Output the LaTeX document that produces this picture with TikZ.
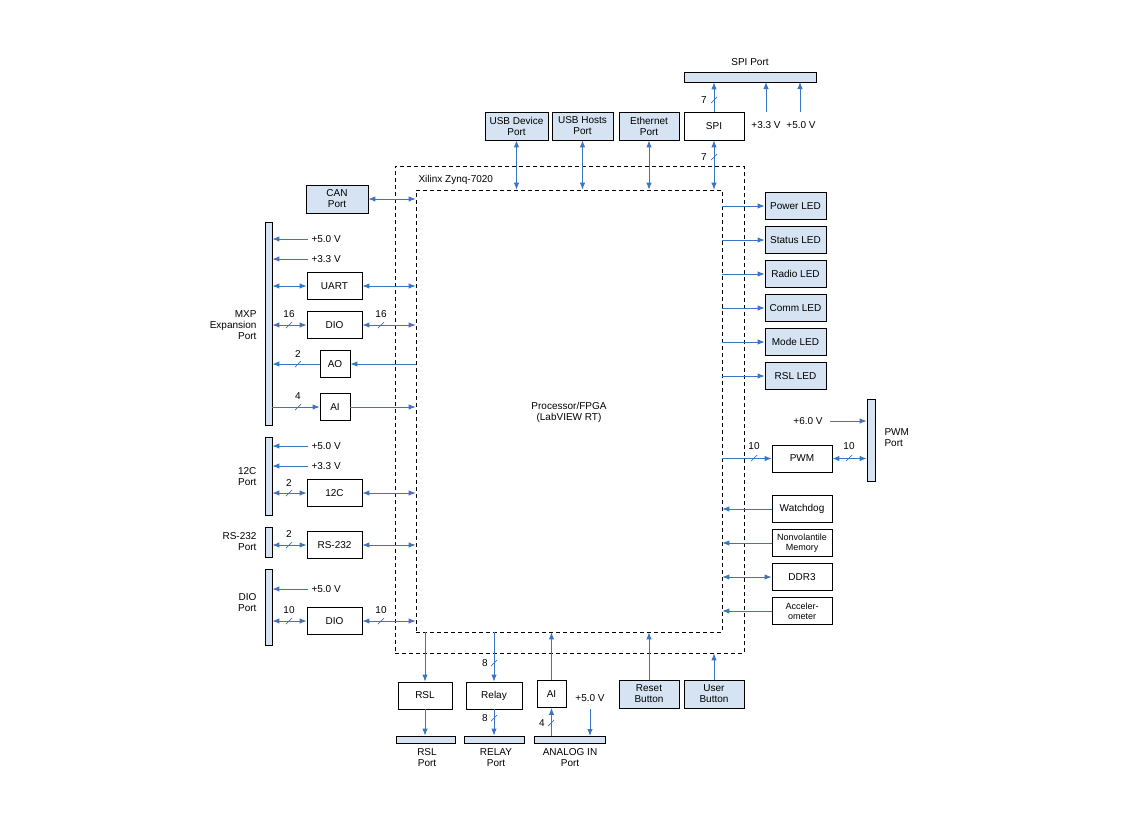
\documentclass[tikz,border=0pt]{standalone}
\usepackage{fontspec}
\setmainfont{Liberation Sans}
\usetikzlibrary{arrows.meta,calc}
\definecolor{ab}{HTML}{3A75C4}
\definecolor{bf}{HTML}{D5E3F3}
\begin{document}
\begin{tikzpicture}[x=1pt,y=-1pt,
  font=\fontsize{10}{11}\selectfont,
  box/.style={draw,line width=0.8pt,minimum width=#1,minimum height=27,inner sep=0pt,align=center,fill=white},
  bbox/.style={box=#1,fill=bf},
  bar/.style={draw,line width=0.8pt,fill=bf},
  a/.style={draw=ab,line width=0.9pt,-{Latex[length=7pt,width=5.5pt]}},
  aa/.style={draw=ab,line width=0.9pt,{Latex[length=7pt,width=5.5pt]}-{Latex[length=7pt,width=5.5pt]}},
  lab/.style={inner sep=1pt},
  dsh/.style={draw,line width=0.7pt,dash pattern=on 4pt off 3pt}]
\newcommand\bmk[4]{\draw[ab,line width=0.7pt] (#1-3,#2+3)--(#1+3,#2-3); \node[lab] at (#3) {#4};}
\useasboundingbox (0,0) rectangle (1125,825);
% Zynq
\node[dsh,minimum width=349,minimum height=487,inner sep=0pt] (zynq) at (569.5,409.5) {};
\node[dsh,minimum width=306,minimum height=442,inner sep=0pt] (fpga) at (569,411) {};
\node[anchor=west] (zt) at (415,180) {Xilinx Zynq-7020};
\node[align=center] (cpu) at (569,412) {Processor/FPGA\\(LabVIEW RT)};
% top
\node[bbox=63,minimum height=28] (usbd) at (516.5,126) {USB Device\\Port};
\node[bbox=61,minimum height=28] (usbh) at (582.5,126) {USB Hosts\\Port};
\node[bbox=60,minimum height=28] (eth) at (649,126) {Ethernet\\Port};
\node[box=60,minimum height=28] (spi) at (714,126) {SPI};
\node[bar,minimum width=132,minimum height=10,inner sep=0pt] (spip) at (750,77) {};
\node (spil) at (750,62) {SPI Port};
\draw[aa] (usbd.south) -- (usbd.south |- fpga.north);
\draw[aa] (usbh.south) -- (usbh.south |- fpga.north);
\draw[aa] (eth.south) -- (eth.south |- fpga.north);
\draw[aa] (spi.south) -- (spi.south |- fpga.north); \bmk{714}{157}{704,157}{7}
\draw[a] (spi.north) -- (spi.north |- spip.south); \bmk{714}{100}{704,100}{7}
\node (v33) at (766,125) {+3.3 V};
\node (v50) at (801,125) {+5.0 V};
\draw[a] (766,112) -- (766,82);
\draw[a] (800,112) -- (800,82);
% CAN
\node[bbox=62,minimum height=28] (can) at (337,199) {CAN\\Port};
\draw[aa] (can.east) -- (fpga.west |- can.east);
% MXP
\node[bar,minimum width=7,minimum height=203,inner sep=0pt] (mxp) at (268.5,323.5) {};
\node[align=right,anchor=east] (mxpl) at (260,325) {MXP\\Expansion\\Port};
\node[anchor=west] (m5) at (308,239) {+5.0 V};
\node[anchor=west] (m3) at (308,259) {+3.3 V};
\draw[a] (m5.west) -- (mxp.east |- m5.west);
\draw[a] (m3.west) -- (mxp.east |- m3.west);
\node[box=55] (uart) at (334.5,286) {UART};
\draw[aa] (mxp.east |- uart) -- (uart.west);
\draw[aa] (uart.east) -- (fpga.west |- uart);
\node[box=55] (dio1) at (334.5,325) {DIO};
\draw[aa] (mxp.east |- dio1) -- (dio1.west); \bmk{289}{325}{289,314}{16}
\draw[aa] (dio1.east) -- (fpga.west |- dio1); \bmk{381}{325}{381,314}{16}
\node[box=30] (ao) at (335,364) {AO};
\draw[a] (fpga.west |- ao) -- (ao.east);
\draw[a] (ao.west) -- (mxp.east |- ao); \bmk{298}{364}{298,354}{2}
\node[box=30] (ai1) at (335,407) {AI};
\draw[a] (mxp.east |- ai1) -- (ai1.west); \bmk{298}{407}{298,396}{4}
\draw[a] (ai1.east) -- (fpga.west |- ai1);
% I2C
\node[bar,minimum width=7,minimum height=78,inner sep=0pt] (i2cp) at (268.5,476) {};
\node[align=right,anchor=east] (i2cl) at (260,477) {12C\\Port};
\node[anchor=west] (i5) at (308,446) {+5.0 V};
\node[anchor=west] (i3) at (308,466) {+3.3 V};
\draw[a] (i5.west) -- (i2cp.east |- i5.west);
\draw[a] (i3.west) -- (i2cp.east |- i3.west);
\node[box=55] (i2c) at (334.5,493) {12C};
\draw[aa] (i2cp.east |- i2c) -- (i2c.west); \bmk{289}{493}{289,483}{2}
\draw[aa] (i2c.east) -- (fpga.west |- i2c);
% RS232
\node[bar,minimum width=7,minimum height=30,inner sep=0pt] (rsp) at (268.5,542) {};
\node[align=right,anchor=east] (rsl) at (260,542) {RS-232\\Port};
\node[box=55] (rs) at (334.5,545) {RS-232};
\draw[aa] (rsp.east |- rs) -- (rs.west); \bmk{289}{545}{289,534}{2}
\draw[aa] (rs.east) -- (fpga.west |- rs);
% DIO port
\node[bar,minimum width=7,minimum height=76,inner sep=0pt] (diop) at (268.5,607) {};
\node[align=right,anchor=east] (diol) at (260,603) {DIO\\Port};
\node[anchor=west] (d5) at (308,589) {+5.0 V};
\draw[a] (d5.west) -- (diop.east |- d5.west);
\node[box=55] (dio2) at (334.5,621) {DIO};
\draw[aa] (diop.east |- dio2) -- (dio2.west); \bmk{289}{621}{289,610}{10}
\draw[aa] (dio2.east) -- (fpga.west |- dio2); \bmk{381}{621}{381,610}{10}
% LEDs
\foreach \n/\t/\y in {pl/Power LED/206,sl/Status LED/240,rl/Radio LED/274,cl/Comm LED/308,ml/Mode LED/342,rsll/RSL LED/376}{
  \node[bbox=61] (\n) at (795.5,\y) {\t};
  \draw[a] (fpga.east |- \n) -- (\n.west);
}
% PWM
\node[bar,minimum width=8,minimum height=82,inner sep=0pt] (pwmp) at (871,440) {};
\node[align=left,anchor=west] (pwml) at (881,438) {PWM\\Port};
\node (v6) at (808,421) {+6.0 V};
\draw[a] (830,421) -- (pwmp.west |- v6);
\node[box=60] (pwm) at (802,458.5) {PWM};
\draw[a] (fpga.east |- pwm) -- (pwm.west); \bmk{754}{458}{754,446}{10}
\draw[aa] (pwm.east) -- (pwmp.west |- pwm); \bmk{849}{458}{849,446}{10}
\node[box=60] (wd) at (802,509) {Watchdog};
\draw[a] (wd.west) -- (fpga.east |- wd);
\node[box=60,font=\fontsize{9}{10}\selectfont] (nv) at (802,543) {Nonvolantile\\Memory};
\draw[a] (nv.west) -- (fpga.east |- nv);
\node[box=60] (ddr) at (802,577) {DDR3};
\draw[aa] (ddr.west) -- (fpga.east |- ddr);
\node[box=60,font=\fontsize{9}{10}\selectfont] (acc) at (802,611) {Acceler-\\ometer};
\draw[a] (acc.west) -- (fpga.east |- acc);
% bottom
\node[box=54] (rslb) at (425,695.5) {RSL};
\node[box=56] (rly) at (494,695.5) {Relay};
\node[box=29] (ai2) at (551.5,694) {AI};
\node[bbox=60,minimum height=28] (rst) at (649,694) {Reset\\Button};
\node[bbox=60,minimum height=28] (usr) at (714,694) {User\\Button};
\node[bar,minimum width=59,minimum height=7,inner sep=0pt] (rslp) at (425.5,739.5) {};
\node[bar,minimum width=60,minimum height=7,inner sep=0pt] (rlyp) at (494,739.5) {};
\node[bar,minimum width=71,minimum height=7,inner sep=0pt] (anp) at (569.5,739.5) {};
\node[align=center] (rslpl) at (427,758) {RSL\\Port};
\node[align=center] (rlypl) at (496,758) {RELAY\\Port};
\node[align=center] (anpl) at (570,758) {ANALOG IN\\Port};
\draw[a] (fpga.south -| rslb) -- (rslb.north);
\draw[a] (rslb.south) -- (rslp.north -| rslb);
\draw[a] (fpga.south -| rly) -- (rly.north); \bmk{494}{663}{485,663}{8}
\draw[a] (rly.south) -- (rlyp.north -| rly); \bmk{494}{718}{485,718}{8}
\draw[a] (ai2.north) -- (fpga.south -| ai2);
\draw[a] (anp.north -| ai2) -- (ai2.south); \bmk{551}{723}{542,723}{4}
\node (b5) at (590,698) {+5.0 V};
\draw[a] (590,709) -- (590,736);
\draw[a] (rst.north) -- (fpga.south -| rst);
\draw[a] (usr.north) -- (zynq.south -| usr);
\end{tikzpicture}
\end{document}
